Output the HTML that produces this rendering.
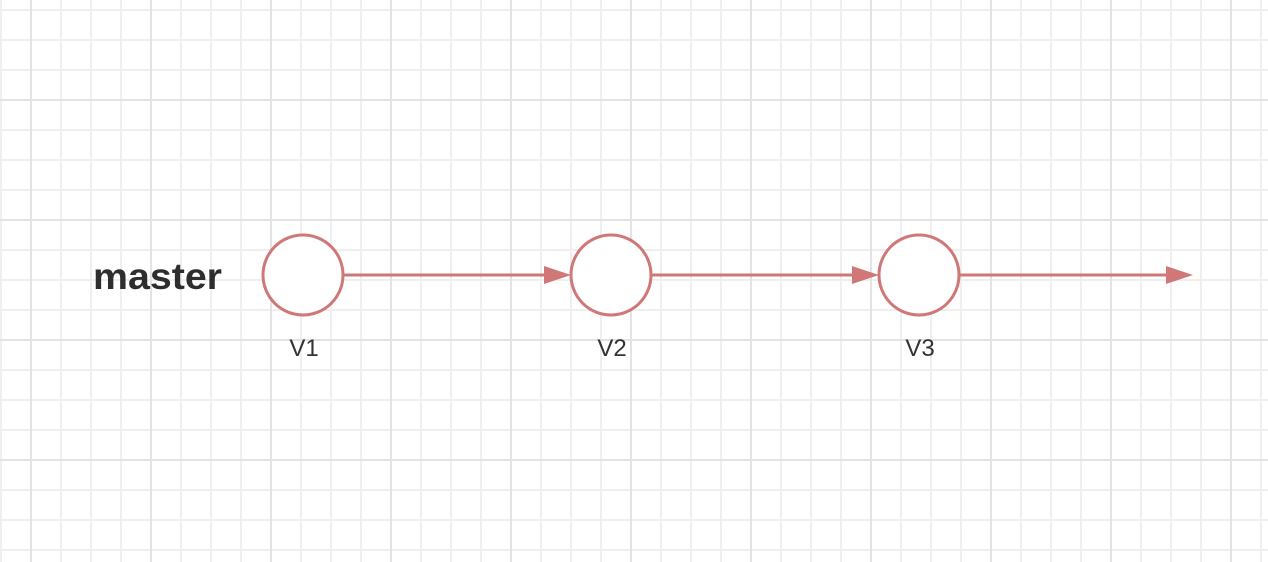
<!DOCTYPE html>
<html><head><style>
html,body{margin:0;padding:0;background:#fff}
</style></head><body>
<svg width="1268" height="562" xmlns="http://www.w3.org/2000/svg" style="display:block">
<defs>
<pattern id="minor" x="0" y="9" width="30" height="30" patternUnits="userSpaceOnUse">
<path d="M1 0V30M0 1H30" stroke="#efefef" stroke-width="2" fill="none"/>
</pattern>
<pattern id="major" x="30" y="99" width="120" height="120" patternUnits="userSpaceOnUse">
<path d="M1 0V120M0 1H120" stroke="#e3e3e3" stroke-width="2" fill="none"/>
</pattern>
</defs>
<rect width="1268" height="562" fill="url(#minor)"/>
<rect width="1268" height="562" fill="url(#major)"/>
<g stroke="#d07878" stroke-width="3" fill="#fff">
<circle cx="303" cy="275" r="40"/>
<circle cx="611" cy="275" r="40"/>
<circle cx="919" cy="275" r="40"/>
<line x1="343" y1="275" x2="548" y2="275"/>
<line x1="651" y1="275" x2="856" y2="275"/>
<line x1="959" y1="275" x2="1170" y2="275"/>
</g>
<g fill="#d07878">
<polygon points="544,266 571,275 544,284"/>
<polygon points="852,266 879,275 852,284"/>
<polygon points="1166,266 1193,275 1166,284"/>
</g>
<text x="93" y="289" font-family="Liberation Sans, sans-serif" font-weight="bold" font-size="37" fill="#2e2e2e" textLength="129" lengthAdjust="spacingAndGlyphs">master</text>
<g font-family="Liberation Sans, sans-serif" font-size="24" fill="#333" text-anchor="middle">
<text x="304" y="356">V1</text>
<text x="612" y="356">V2</text>
<text x="920" y="356">V3</text>
</g>
</svg>
</body></html>
